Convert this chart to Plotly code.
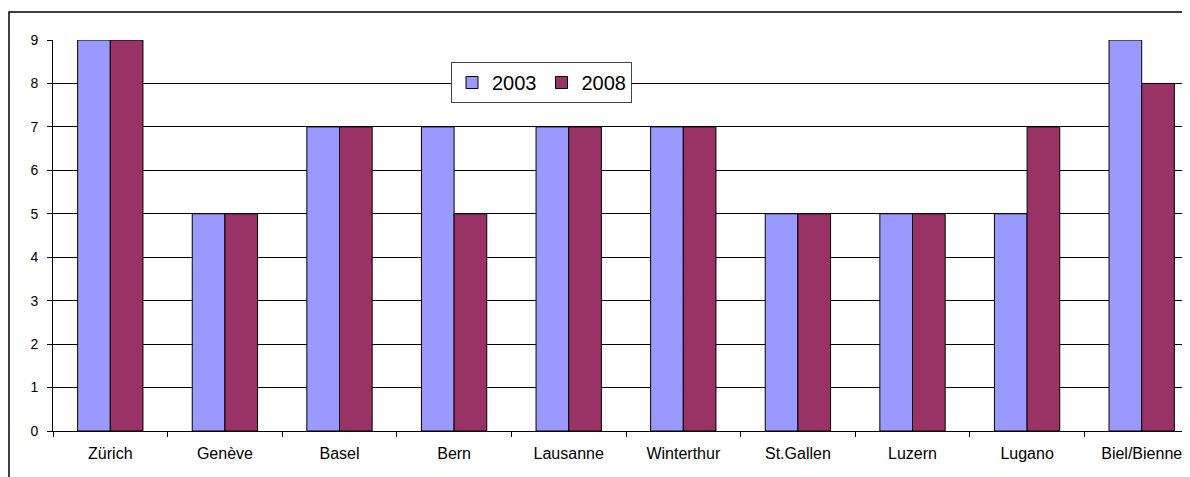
import plotly.graph_objects as go

cities = ["Zürich", "Genève", "Basel", "Bern", "Lausanne", "Winterthur",
          "St.Gallen", "Luzern", "Lugano", "Biel/Bienne"]
values_2003 = [9, 5, 7, 7, 7, 7, 5, 5, 5, 9]
values_2008 = [9, 5, 7, 5, 7, 7, 5, 5, 7, 8]
y_ticks = [0, 1, 2, 3, 4, 5, 6, 7, 8, 9]

# page body has an 8px margin; compensate so the figure fills the window
OFF = 8
W, H = 1190 - OFF, 477 - OFF
L, T = 53 - OFF, 40 - OFF
plot_w = W - L
plot_h = 391
B = H - T - plot_h

fig = go.Figure()
fig.add_trace(go.Bar(name="2003", x=cities, y=values_2003,
                     marker=dict(color="#9999FF", line=dict(color="black", width=1))))
fig.add_trace(go.Bar(name="2008", x=cities, y=values_2008,
                     marker=dict(color="#993366", line=dict(color="black", width=1))))

# outer chart border (left and top visible)
fig.add_shape(type="rect", xref="paper", yref="paper",
              x0=(9 - 53) / plot_w, x1=1.2, y0=-0.5, y1=1 + (40 - 12) / plot_h,
              line=dict(color="black", width=1.5), layer="below")

fig.update_layout(
    width=W, height=H,
    margin=dict(l=L, r=0, t=T, b=B, pad=0),
    paper_bgcolor="white", plot_bgcolor="white",
    barmode="group", bargap=0.43, bargroupgap=0,
    font=dict(family="Liberation Sans, Arial, sans-serif", color="black", size=14),
    showlegend=True,
    legend=dict(orientation="h", x=(451 - 53) / plot_w, y=1 - (62 - 40) / plot_h,
                xanchor="left", yanchor="top",
                bordercolor="#444444", borderwidth=1, bgcolor="white",
                font=dict(size=20), traceorder="normal",
                itemwidth=30, tracegroupgap=0),
)
fig.update_xaxes(range=[-0.5, -0.5 + plot_w / 114.6], showgrid=False,
                 showline=True, linecolor="black", linewidth=1,
                 ticks="outside", ticklen=5, tickcolor="black",
                 tickson="boundaries", tickfont=dict(size=16),
                 ticklabelstandoff=8)
fig.update_yaxes(range=[0, 9], tickvals=y_ticks, showgrid=True,
                 gridcolor="black", gridwidth=1,
                 showline=True, linecolor="black", linewidth=1,
                 ticks="outside", ticklen=5, tickcolor="black",
                 zeroline=False, tickfont=dict(size=14),
                 ticklabelstandoff=6)

fig.write_html("out.html")
